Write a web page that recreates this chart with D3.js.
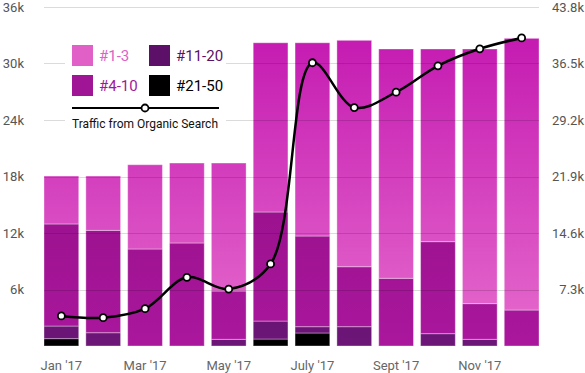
<!DOCTYPE html>
<html><head><meta charset="utf-8">
<script src="https://cdn.jsdelivr.net/npm/d3@7"></script>
<style>body{margin:0;background:#fff}svg{display:block;font-family:Roboto,sans-serif}</style>
</head><body>
<svg id="c" width="585" height="373"></svg>
<script>
const months = ["Jan '17","Feb '17","Mar '17","Apr '17","May '17","Jun '17","July '17","Aug '17","Sept '17","Oct '17","Nov '17","Dec '17"];
const rank1_3   = [5.09, 5.77, 8.95, 8.49, 13.59, 17.97, 20.52, 24.04, 24.35, 20.46, 27.04, 28.85];
const rank4_10  = [10.84, 10.87, 10.30, 10.94, 5.13, 11.58, 9.63, 6.37, 7.19, 9.77, 3.79, 3.82];
const rank11_20 = [1.34, 1.41, 0, 0, 0.71, 1.91, 0.67, 2.05, 0, 1.31, 0.71, 0];
const rank21_50 = [0.78, 0, 0, 0, 0, 0.74, 1.38, 0, 0, 0, 0, 0];
const traffic   = [3.88, 3.66, 4.82, 8.87, 7.36, 10.6, 36.6, 30.8, 32.8, 36.2, 38.4, 39.8];
const leftTicks  = [6, 12, 18, 24, 30, 36];
const rightTicks = [7.3, 14.6, 21.9, 29.2, 36.5, 43.8];
const xLabels = ["Jan '17","Mar '17","May '17","July '17","Sept '17","Nov '17"];
const seriesNames = ["#1-3","#4-10","#11-20","#21-50"];

const svg = d3.select("#c");
const x = d3.scaleBand().domain(months).range([44, 539]).paddingInner(0.17).paddingOuter(0);
const yL = d3.scaleLinear().domain([0, 36]).range([346, 7]);
const yR = d3.scaleLinear().domain([0, 43.8]).range([346, 7]);

const defs = svg.append("defs");
const grads = [
  ["g0", "#c41ab1", "#e66ccd"],
  ["g1", "#880b7a", "#aa179d"],
  ["g2", "#560d60", "#6c1677"],
  ["g3", "#000000", "#000000"]
];
grads.forEach(([id, a, b]) => {
  const g = defs.append("linearGradient").attr("id", id).attr("gradientUnits", "userSpaceOnUse")
    .attr("x1", 0).attr("x2", 0).attr("y1", yL(33)).attr("y2", yL(0));
  g.append("stop").attr("offset", 0).attr("stop-color", a);
  g.append("stop").attr("offset", 1).attr("stop-color", b);
});

const rows = months.map((m, i) => ({m, r21: rank21_50[i], r11: rank11_20[i], r4: rank4_10[i], r1: rank1_3[i]}));
const stack = d3.stack().keys(["r21", "r11", "r4", "r1"])(rows);
const fills = {r1: "url(#g0)", r4: "url(#g1)", r11: "url(#g2)", r21: "url(#g3)"};

const gb = svg.append("g");
stack.forEach(s => {
  gb.selectAll(null).data(s.filter(d => d[1] - d[0] > 0)).enter().append("rect")
    .attr("x", d => x(d.data.m))
    .attr("width", x.bandwidth())
    .attr("y", d => yL(d[1]))
    .attr("height", d => yL(d[0]) - yL(d[1]))
    .attr("fill", fills[s.key])
    .attr("stroke", "rgba(255,255,255,0.35)").attr("stroke-width", 1);
});

// gridlines over bars
svg.append("g").selectAll("line").data(leftTicks).enter().append("line")
  .attr("x1", 44).attr("x2", 539)
  .attr("y1", d => Math.round(yL(d)) + 0.5).attr("y2", d => Math.round(yL(d)) + 0.5)
  .attr("stroke", "rgba(0,0,0,0.14)").attr("stroke-width", 1);

// left axis labels
svg.append("g").selectAll("text").data(leftTicks).enter().append("text")
  .attr("x", 24).attr("y", d => yL(d)).attr("dy", "0.35em").attr("text-anchor", "end")
  .attr("font-size", 13).attr("fill", "#555").text(d => d + "k");
// right axis labels
svg.append("g").selectAll("text").data(rightTicks).enter().append("text")
  .attr("x", 584).attr("y", d => yR(d)).attr("dy", "0.35em").attr("text-anchor", "end")
  .attr("font-size", 13).attr("fill", "#555").text(d => d + "k");
// x labels
svg.append("g").selectAll("text").data(xLabels).enter().append("text")
  .attr("x", d => x(d) + x.bandwidth() / 2).attr("y", 365).attr("dy", "0.35em").attr("text-anchor", "middle")
  .attr("font-size", 13).attr("fill", "#666").text(d => d);

// line
const line = d3.line().x((d, i) => x(months[i]) + x.bandwidth() / 2).y(d => yR(d)).curve(d3.curveCatmullRom.alpha(0.5));
svg.append("path").datum(traffic).attr("d", line).attr("fill", "none").attr("stroke", "#000").attr("stroke-width", 2.5);
svg.append("g").selectAll("circle").data(traffic).enter().append("circle")
  .attr("cx", (d, i) => x(months[i]) + x.bandwidth() / 2).attr("cy", d => yR(d)).attr("r", 3.5)
  .attr("fill", "#fff").attr("stroke", "#000").attr("stroke-width", 1.8);

// legend
const lg = svg.append("g");
lg.append("rect").attr("x", 65).attr("y", 34).attr("width", 161).attr("height", 98).attr("fill", "#fff");
const swatch = ["#e060c8", "#a01595", "#5c1068", "#000"];
const textCol = ["#e060c8", "#a0179b", "#5c1068", "#000"];
const pos = [[72, 45], [72, 75], [149, 45], [149, 75]];
seriesNames.forEach((n, i) => {
  lg.append("rect").attr("x", pos[i][0]).attr("y", pos[i][1]).attr("width", 21).attr("height", 21).attr("fill", swatch[i]);
  lg.append("text").attr("x", pos[i][0] + 27).attr("y", pos[i][1] + 11).attr("dy", "0.35em")
    .attr("font-size", 15).attr("fill", textCol[i]).text(n);
});
lg.append("line").attr("x1", 72).attr("x2", 219).attr("y1", 108).attr("y2", 108).attr("stroke", "#000").attr("stroke-width", 2);
lg.append("circle").attr("cx", 145).attr("cy", 108).attr("r", 3.5).attr("fill", "#fff").attr("stroke", "#000").attr("stroke-width", 1.8);
lg.append("text").attr("x", 72).attr("y", 123).attr("dy", "0.35em").attr("font-size", 13)
  .attr("textLength", 146).attr("lengthAdjust", "spacingAndGlyphs").attr("fill", "#111").text("Traffic from Organic Search");
</script>
</body></html>
